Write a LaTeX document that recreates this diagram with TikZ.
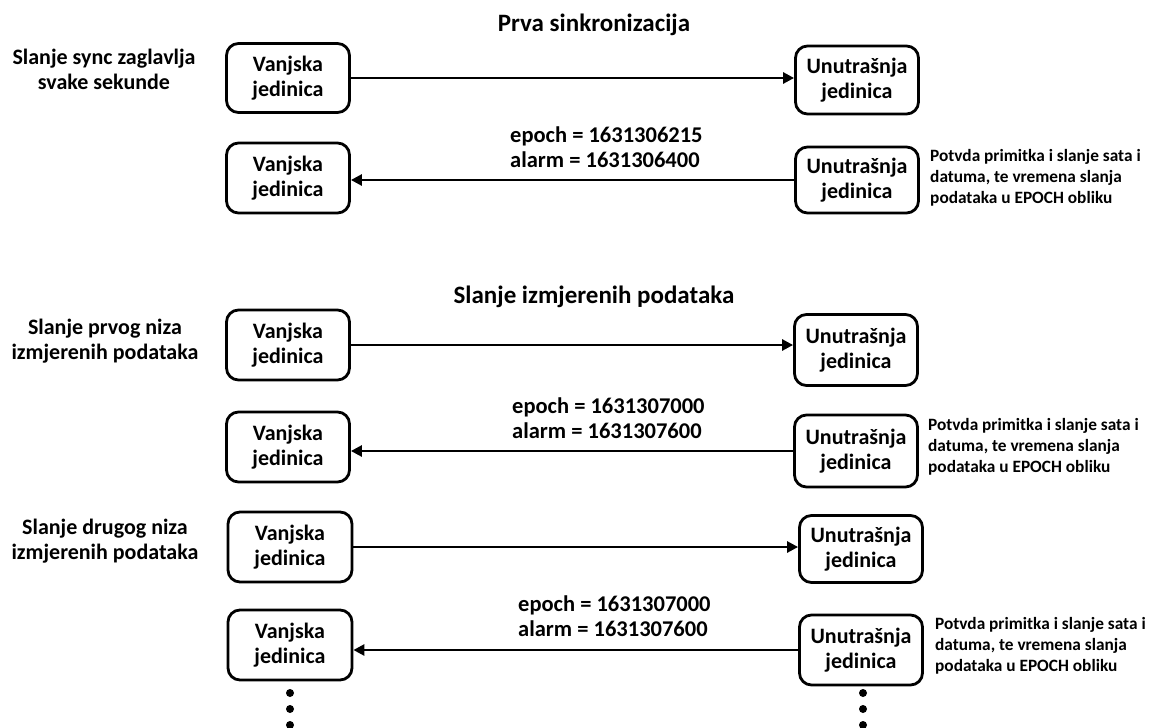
\documentclass[tikz,border=0pt]{standalone}
\usepackage{fontspec}
\setmainfont{Carlito}
\usetikzlibrary{arrows.meta}
\tikzset{
  unit/.style={draw, line width=2.8pt, rounded corners=12pt, minimum width=123pt, minimum height=69pt,
    align=center, font=\bfseries\fontsize{22}{24.5}\selectfont, inner sep=0pt},
  msg/.style={line width=2.6pt, -{Triangle[length=11pt,width=11pt]}},
  title/.style={font=\bfseries\fontsize{25}{28}\selectfont},
  side/.style={align=center, font=\bfseries\fontsize{22}{25}\selectfont},
  val/.style={anchor=west, align=left, font=\bfseries\fontsize{22.5}{25}\selectfont, inner sep=0pt},
  note/.style={anchor=west, align=left, font=\bfseries\fontsize{17.3}{20.8}\selectfont, inner sep=0pt},
  dot/.style={fill, circle, inner sep=0pt, minimum size=8pt}
}
\begin{document}
\begin{tikzpicture}[x=1pt,y=-1pt]
\useasboundingbox (0,0) rectangle (1149,728);
% titles
\node[title] (t1) at (594,25) {Prva sinkronizacija};
\node[title] (t2) at (594,297) {Slanje izmjerenih podataka};
% side labels
\node[side] (s1) at (104,69) {Slanje sync zaglavlja\\svake sekunde};
\node[side] (s2) at (105,341) {Slanje prvog niza\\izmjerenih podataka};
\node[side] (s3) at (105,541) {Slanje drugog niza\\izmjerenih podataka};
% row 1
\node[unit] (v1) at (288,78) {Vanjska\\jedinica};
\node[unit, minimum height=68pt] (u1) at (857,80) {Unutrašnja\\jedinica};
\draw[msg] (v1.east) -- (v1.east -| u1.west);
% row 2
\node[unit, minimum height=70pt] (v2) at (288,178) {Vanjska\\jedinica};
\node[unit, minimum height=66pt] (u2) at (857,180) {Unutrašnja\\jedinica};
\draw[msg] (u2.west) -- (u2.west -| v2.east);
\node[val] (e2) at (510,147) {epoch = 1631306215\\alarm = 1631306400};
\node[note] (n2) at (930,178) {Potvda primitka i slanje sata i\\datuma, te vremena slanja\\podataka u EPOCH obliku};
% row 3
\node[unit, minimum height=70pt] (v3) at (288,345) {Vanjska\\jedinica};
\node[unit, minimum height=71pt] (u3) at (856,350) {Unutrašnja\\jedinica};
\draw[msg] (v3.east) -- (v3.east -| u3.west);
% row 4
\node[unit, minimum height=70pt] (v4) at (288,447) {Vanjska\\jedinica};
\node[unit, minimum height=72pt] (u4) at (856,451) {Unutrašnja\\jedinica};
\draw[msg] (u4.west) -- (u4.west -| v4.east);
\node[val] (e4) at (512,418) {epoch = 1631307000\\alarm = 1631307600};
\node[note] (n4) at (928,447) {Potvda primitka i slanje sata i\\datuma, te vremena slanja\\podataka u EPOCH obliku};
% row 5
\node[unit, minimum width=124pt, minimum height=70pt] (v5) at (290,547) {Vanjska\\jedinica};
\node[unit, minimum height=67pt] (u5) at (861,549) {Unutrašnja\\jedinica};
\draw[msg] (v5.east) -- (v5.east -| u5.west);
% row 6
\node[unit, minimum width=124pt, minimum height=70pt] (v6) at (290,645) {Vanjska\\jedinica};
\node[unit, minimum height=70pt] (u6) at (861,650) {Unutrašnja\\jedinica};
\draw[msg] (u6.west) -- (u6.west -| v6.east);
\node[val] (e6) at (518,616) {epoch = 1631307000\\alarm = 1631307600};
\node[note] (n6) at (935,646) {Potvda primitka i slanje sata i\\datuma, te vremena slanja\\podataka u EPOCH obliku};
% dots
\node[dot] (dl1) at (290,693) {};
\node[dot] (dl2) at (290,709) {};
\node[dot] (dl3) at (290,725) {};
\node[dot] (dr1) at (863,693) {};
\node[dot] (dr2) at (863,709) {};
\node[dot] (dr3) at (863,725) {};
\end{tikzpicture}
\end{document}
